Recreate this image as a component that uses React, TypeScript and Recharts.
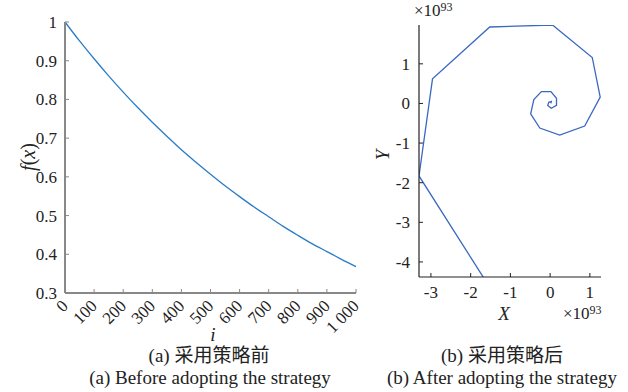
import React from 'react';
import { LineChart, Line, XAxis, YAxis } from 'recharts';

const iValues = [0, 50, 100, 150, 200, 250, 300, 350, 400, 450, 500, 550, 600, 650, 700, 750, 800, 850, 900, 950, 1000];
const fValues = [1, 0.951, 0.905, 0.861, 0.819, 0.779, 0.741, 0.705, 0.67, 0.638, 0.607, 0.577, 0.549, 0.522, 0.497, 0.472, 0.449, 0.427, 0.407, 0.387, 0.368];
const leftXTicks = [0, 100, 200, 300, 400, 500, 600, 700, 800, 900, 1000];
const leftXTickLabels = ['0', '100', '200', '300', '400', '500', '600', '700', '800', '900', '1 000'];
const leftYTicks = [0.3, 0.4, 0.5, 0.6, 0.7, 0.8, 0.9, 1];

const spiralX = [-0.66, -3.3, -2.96, -1.52, 0.06, 1.06, 1.26, 0.87, 0.24, -0.26, -0.49, -0.41, -0.22, 0.02, 0.16, 0.16, 0.03, -0.06, -0.035, 0.03, 0.02];
const spiralY = [-6.0, -1.83, 0.62, 1.93, 1.98, 1.16, 0.16, -0.57, -0.8, -0.62, -0.26, 0.1, 0.3, 0.3, 0.13, -0.05, -0.12, -0.05, 0.03, 0.05, 0.0];
const rightXTicks = [-3, -2, -1, 0, 1];
const rightYTicks = [-4, -3, -2, -1, 0, 1];

const leftData = iValues.map((i, k) => ({ i, f: fValues[k] }));
const rightData = spiralX.map((x, k) => ({ x, y: spiralY[k] }));

const SVGFONT = 'Liberation Serif, serif';
const FONT = "'Liberation Serif', 'Times New Roman', 'Noto Sans CJK SC', serif";
const CJK = "'Liberation Serif', 'Noto Sans CJK SC', serif";

const RotTick = (props: any) => {
  const { x, y, payload } = props;
  const idx = leftXTicks.indexOf(payload.value);
  const label = idx >= 0 ? leftXTickLabels[idx] : String(payload.value);
  const ex = x + 4;
  const ey = y + 14;
  return (
    <text x={ex} y={ey} textAnchor="end" transform={`rotate(-45, ${ex}, ${ey})`} fontFamily={SVGFONT} fontSize={17} fill="#222">
      {label}
    </text>
  );
};

const abs = (extra: React.CSSProperties): React.CSSProperties => ({
  position: 'absolute',
  fontFamily: FONT,
  color: '#222',
  whiteSpace: 'nowrap',
  lineHeight: 1,
  ...extra,
});

export default function App() {
  return (
    <div style={{ position: 'absolute', left: 0, top: 0, width: 628, height: 392, background: '#fff', overflow: 'hidden' }}>
      <div style={{ position: 'absolute', left: 0, top: 0 }}>
        <LineChart width={380} height={340} data={leftData} margin={{ top: 22, right: 24, bottom: 7, left: 20 }}>
          <XAxis
            dataKey="i"
            type="number"
            domain={[0, 1000]}
            ticks={leftXTicks}
            interval={0}
            height={40}
            tickSize={-4}
            tickMargin={4}
            tick={<RotTick />}
            axisLine={{ stroke: '#888', strokeWidth: 2 }}
            tickLine={{ stroke: '#888', strokeWidth: 1 }}
          />
          <YAxis
            type="number"
            domain={[0.3, 1]}
            ticks={leftYTicks}
            interval={0}
            width={45}
            tickSize={-4}
            tickMargin={12}
            tick={{ fontFamily: SVGFONT, fontSize: 17, fill: '#222' }}
            axisLine={{ stroke: '#888', strokeWidth: 2 }}
            tickLine={{ stroke: '#888', strokeWidth: 1 }}
          />
          <Line dataKey="f" type="monotone" stroke="#2a7cc6" strokeWidth={1.3} dot={false} isAnimationActive={false} />
        </LineChart>
      </div>

      <div style={{ position: 'absolute', left: 340, top: 0 }}>
        <LineChart width={288} height={340} data={rightData} margin={{ top: 25, right: 27, bottom: 23, left: 39 }}>
          <XAxis
            dataKey="x"
            type="number"
            domain={[-3.3, 1.28]}
            allowDataOverflow
            ticks={rightXTicks}
            interval={0}
            height={40}
            tickSize={-4}
            tickMargin={8}
            tick={{ fontFamily: SVGFONT, fontSize: 17, fill: '#222', dy: 5 }}
            axisLine={{ stroke: '#222', strokeWidth: 1.2 }}
            tickLine={{ stroke: '#222', strokeWidth: 1 }}
          />
          <YAxis
            dataKey="y"
            type="number"
            domain={[-4.38, 1.98]}
            allowDataOverflow
            ticks={rightYTicks}
            interval={0}
            width={40}
            tickSize={-4}
            tickMargin={13}
            tick={{ fontFamily: SVGFONT, fontSize: 17, fill: '#222' }}
            axisLine={{ stroke: '#222', strokeWidth: 1.2 }}
            tickLine={{ stroke: '#222', strokeWidth: 1 }}
          />
          <Line dataKey="y" type="linear" stroke="#3b68c0" strokeWidth={1.3} dot={false} isAnimationActive={false} />
        </LineChart>
      </div>

      {/* left axis labels */}
      <div style={abs({ left: 28, top: 157, fontSize: 20, fontStyle: 'italic', transform: 'translate(-50%, -50%) rotate(-90deg)' })}>
        f<span style={{ fontStyle: 'normal' }}>(</span>x<span style={{ fontStyle: 'normal' }}>)</span>
      </div>
      <div style={abs({ left: 213, top: 334, fontSize: 19, fontStyle: 'italic', transform: 'translate(-50%, -50%)' })}>i</div>

      {/* right axis labels */}
      <div style={abs({ left: 382, top: 155, fontSize: 19, fontStyle: 'italic', transform: 'translate(-50%, -50%) rotate(-90deg)' })}>Y</div>
      <div style={abs({ left: 504, top: 313, fontSize: 19, fontStyle: 'italic', transform: 'translate(-50%, -50%)' })}>X</div>
      <div style={abs({ left: 414, top: 2, fontSize: 17 })}>
        ×10<span style={{ fontSize: 12, verticalAlign: 'top', position: 'relative', top: -1 }}>93</span>
      </div>
      <div style={abs({ left: 563, top: 305, fontSize: 17 })}>
        ×10<span style={{ fontSize: 12, verticalAlign: 'top', position: 'relative', top: -1 }}>93</span>
      </div>

      {/* captions */}
      <div style={abs({ left: 209, top: 355, fontSize: 19, fontFamily: CJK, transform: 'translate(-50%, -50%)' })}>(a) 采用策略前</div>
      <div style={abs({ left: 210, top: 377, fontSize: 19, transform: 'translate(-50%, -50%)' })}>(a) Before adopting the strategy</div>
      <div style={abs({ left: 502, top: 355, fontSize: 19, fontFamily: CJK, transform: 'translate(-50%, -50%)' })}>(b) 采用策略后</div>
      <div style={abs({ left: 502, top: 377, fontSize: 19, transform: 'translate(-50%, -50%)' })}>(b) After adopting the strategy</div>
    </div>
  );
}
